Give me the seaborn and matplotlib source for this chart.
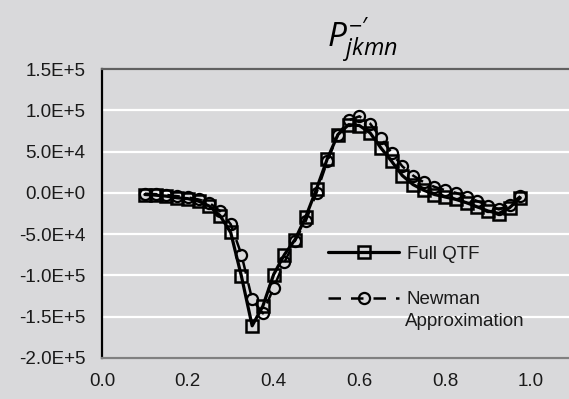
import numpy as np
import pandas as pd
import matplotlib
matplotlib.use("Agg")
import matplotlib.pyplot as plt
import seaborn as sns

freq = [0.1, 0.125, 0.15, 0.175, 0.2, 0.225, 0.25, 0.275, 0.3, 0.325, 0.35, 0.375,
        0.4, 0.425, 0.45, 0.475, 0.5, 0.525, 0.55, 0.575, 0.6, 0.625, 0.65, 0.675,
        0.7, 0.725, 0.75, 0.775, 0.8, 0.825, 0.85, 0.875, 0.9, 0.925, 0.95, 0.975]
full_qtf = [-2000, -2800, -4000, -6000, -7000, -10000, -16000, -27500, -48000, -101000,
            -161000, -137000, -99000, -75000, -56500, -29000, 4800, 41000, 70600, 82600,
            81500, 72600, 54500, 38300, 21000, 10000, 3200, -2000, -5000, -8000, -12000,
            -17000, -22000, -25000, -18000, -6000]
newman = [-1000, -1500, -2500, -4000, -5500, -8000, -12000, -22000, -38000, -74700,
          -129000, -146000, -115000, -84000, -58000, -34000, 0, 38000, 70600, 87900,
          92700, 83900, 66600, 48400, 32200, 21000, 12800, 7300, 3200, 0, -5000, -10000,
          -15400, -20000, -15000, -4000]
yticks = [-2.0e5, -1.5e5, -1.0e5, -5.0e4, 0.0, 5.0e4, 1.0e5, 1.5e5]
ytick_labels = ["-2.0E+5", "-1.5E+5", "-1.0E+5", "-5.0E+4", "0.0E+0", "5.0E+4", "1.0E+5", "1.5E+5"]
xticks = [0.0, 0.2, 0.4, 0.6, 0.8, 1.0]
xtick_labels = ["0.0", "0.2", "0.4", "0.6", "0.8", "1.0"]

sns.set_theme(style="darkgrid")
bg = "#d9d9db"
plt.rcParams["font.family"] = ["Liberation Sans", "DejaVu Sans"]
plt.rcParams["mathtext.fontset"] = "custom"
plt.rcParams["mathtext.it"] = "Open Sans:italic"
plt.rcParams["mathtext.rm"] = "Open Sans"

fs = 13.5

fig = plt.figure(figsize=(5.69, 3.99), dpi=100, facecolor=bg)
ax = fig.add_axes([102 / 569, 41 / 399, (569 - 102) / 569, (358 - 69) / 399])
ax.set_facecolor(bg)

df_full = pd.DataFrame({"x": freq, "y": full_qtf})
df_new = pd.DataFrame({"x": freq, "y": newman})

sns.lineplot(data=df_full, x="x", y="y", ax=ax, color="black", linewidth=2.3,
             marker="s", markersize=8, markerfacecolor="none", markeredgecolor="black",
             markeredgewidth=1.8, label="Full QTF", zorder=3)
sns.lineplot(data=df_new, x="x", y="y", ax=ax, color="black", linewidth=1.8,
             linestyle=(0, (5, 4)), marker="o", markersize=8, markerfacecolor="none",
             markeredgecolor="black", markeredgewidth=1.6, label="Newman", zorder=4)

ax.set_xlim(0, (569 - 102) / (531 - 102))
ax.set_ylim(-2.0e5, 1.5e5)
ax.set_xticks(xticks)
ax.set_xticklabels(xtick_labels)
ax.set_yticks(yticks)
ax.set_yticklabels(ytick_labels)
ax.set_xlabel("")
ax.set_ylabel("")
ax.grid(False)
ax.yaxis.grid(True, color="white", linewidth=1.6)
ax.tick_params(axis="both", labelsize=fs, colors="#1a1a1a", direction="in", length=5, width=1.2)
ax.tick_params(axis="y", pad=12, color="black")
ax.tick_params(axis="x", pad=11, color="#808080")

for s in ["top", "left", "bottom", "right"]:
    ax.spines[s].set_visible(True)
ax.spines["left"].set_color("black")
ax.spines["left"].set_linewidth(1.6)
ax.spines["bottom"].set_color("#808080")
ax.spines["bottom"].set_linewidth(1.6)
ax.spines["top"].set_color("#606060")
ax.spines["top"].set_linewidth(1.6)
ax.spines["right"].set_visible(False)

leg = ax.legend(loc="upper left", bbox_to_anchor=(311 / 569, 1 - 229 / 399),
                bbox_transform=fig.transFigure, frameon=False, fontsize=fs,
                handlelength=3.8, handletextpad=0.4, labelspacing=1.5, numpoints=1)
for t in leg.get_texts():
    t.set_color("#1a1a1a")

fig.text(405 / 569, 1 - 322 / 399, "Approximation", ha="left", va="center",
         fontsize=fs, color="#1a1a1a")

fig.text(362 / 569, 1 - 40 / 399, r"$P_{jkmn}^{-\prime}$", ha="center", va="center",
         fontsize=24, color="black")

fig.savefig("out.png", dpi=100, facecolor=bg)
